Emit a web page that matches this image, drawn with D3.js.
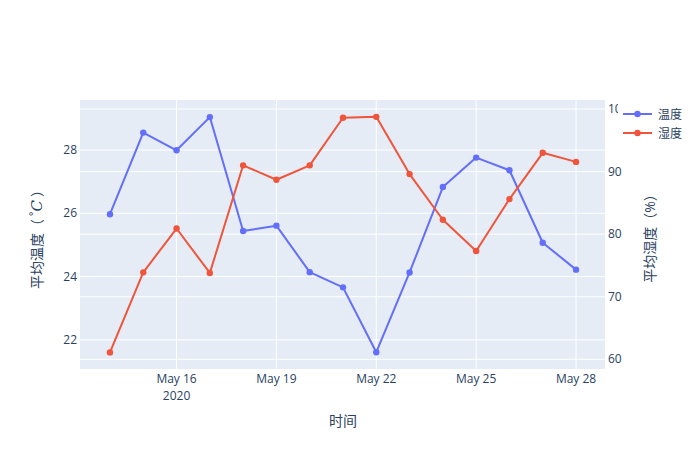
<!DOCTYPE html>
<html><head><meta charset="utf-8">
<script src="https://cdn.jsdelivr.net/npm/d3@7"></script>
<style>body{margin:0;background:#fff}text{font-family:"Open Sans","Noto Sans CJK SC",sans-serif}</style>
</head><body><svg id="c" width="700" height="450"></svg>
<script>
const dates = ["2020-05-14","2020-05-15","2020-05-16","2020-05-17","2020-05-18","2020-05-19","2020-05-20","2020-05-21","2020-05-22","2020-05-23","2020-05-24","2020-05-25","2020-05-26","2020-05-27","2020-05-28"];
const temperature = [25.97,28.55,27.99,29.04,25.44,25.61,24.14,23.66,21.61,24.13,26.83,27.76,27.36,25.07,24.22];
const humidity = [61.1,73.9,80.9,73.8,91.0,88.7,91.0,98.6,98.75,89.6,82.3,77.3,85.6,93.0,91.55];
const xTicks = ["2020-05-16","2020-05-19","2020-05-22","2020-05-25","2020-05-28"];
const leftTicks = [22,24,26,28];
const rightTicks = [60,70,80,90,100];
const seriesNames = ["温度","湿度"];

const svg = d3.select("#c");
const L=80,R=605,T=100,B=369;
const parse = d3.utcParse("%Y-%m-%d");
const day = 864e5;
const x = d3.scaleUtc().domain([+parse(dates[0])-0.9*day, +parse(dates[dates.length-1])+0.87*day]).range([L,R]);
const yL = d3.scaleLinear().domain([21.08,29.58]).range([B,T]);
const yR = d3.scaleLinear().domain([58.45,101.44]).range([B,T]);
const fc="#2a3f5f";
svg.append("rect").attr("x",L).attr("y",T).attr("width",R-L).attr("height",B-T).attr("fill","#E5ECF6");
const g = svg.append("g");
xTicks.forEach(t=>g.append("line").attr("x1",x(parse(t))).attr("x2",x(parse(t))).attr("y1",T).attr("y2",B).attr("stroke","#fff").attr("stroke-width",1));
leftTicks.forEach(t=>g.append("line").attr("x1",L).attr("x2",R).attr("y1",yL(t)).attr("y2",yL(t)).attr("stroke","#fff"));
rightTicks.forEach(t=>g.append("line").attr("x1",L).attr("x2",R).attr("y1",yR(t)).attr("y2",yR(t)).attr("stroke","#fff"));
const fmt = d3.utcFormat("%b %-d");
xTicks.forEach((t,i)=>{
  svg.append("text").attr("x",x(parse(t))).attr("y",383).attr("text-anchor","middle").attr("font-size",12).attr("fill",fc).text(fmt(parse(t)));
  if(i===0) svg.append("text").attr("x",x(parse(t))).attr("y",400).attr("text-anchor","middle").attr("font-size",12).attr("fill",fc).text("2020");
});
leftTicks.forEach(t=>svg.append("text").attr("x",77).attr("y",yL(t)+4).attr("text-anchor","end").attr("font-size",12).attr("fill",fc).text(t));
rightTicks.forEach(t=>svg.append("text").attr("x",608).attr("y",yR(t)+4).attr("text-anchor","start").attr("font-size",12).attr("fill",fc).text(t));
const data = dates.map((d,i)=>({d:parse(d),t:temperature[i],h:humidity[i]}));
const series=[{k:"t",y:yL,c:"#636efa"},{k:"h",y:yR,c:"#EF553B"}];
series.forEach(s=>{
  g.append("path").datum(data).attr("fill","none").attr("stroke",s.c).attr("stroke-width",2)
   .attr("stroke-linejoin","round").attr("d",d3.line().x(d=>x(d.d)).y(d=>s.y(d[s.k])));
  g.selectAll(null).data(data).enter().append("circle").attr("cx",d=>x(d.d)).attr("cy",d=>s.y(d[s.k])).attr("r",3.2).attr("fill",s.c);
});
svg.append("text").attr("x",343).attr("y",426).attr("text-anchor","middle").attr("font-size",14).attr("fill",fc).text("时间");
const lt = svg.append("text").attr("transform","translate(42,236) rotate(-90)").attr("text-anchor","middle").attr("font-size",14).attr("fill",fc);
lt.append("tspan").text("平均温度（");
lt.append("tspan").attr("font-size",10).attr("dy",-5).attr("dx",3).text("°");
lt.append("tspan").attr("dy",5).attr("font-family","DejaVu Serif, serif").attr("font-style","italic").attr("font-size",15).text("C");
lt.append("tspan").attr("dx",3).text("）");
svg.append("text").attr("transform","translate(655,235) rotate(-90)").attr("text-anchor","middle").attr("font-size",14).attr("fill",fc).text("平均湿度（%）");
svg.append("rect").attr("x",618).attr("y",103).attr("width",82).attr("height",40).attr("fill","#fff");
series.forEach((s,i)=>{
  const yy=114+i*19;
  svg.append("line").attr("x1",623).attr("x2",652).attr("y1",yy).attr("y2",yy).attr("stroke",s.c).attr("stroke-width",2);
  svg.append("circle").attr("cx",637.5).attr("cy",yy).attr("r",3.2).attr("fill",s.c);
  svg.append("text").attr("x",658).attr("y",yy+4.5).attr("font-size",12).attr("fill",fc).text(seriesNames[i]);
});
</script></body></html>
